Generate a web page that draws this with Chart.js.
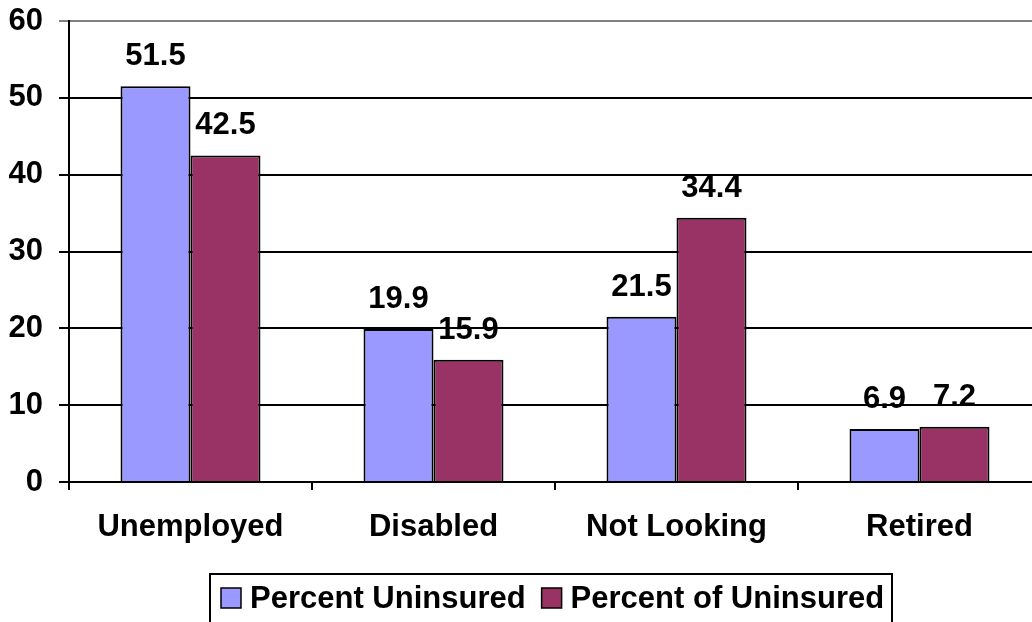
<!DOCTYPE html>
<html>
<head>
<meta charset="utf-8">
<script src="https://cdn.jsdelivr.net/npm/chart.js@4/dist/chart.umd.min.js"></script>
<style>
  html, body { margin: 0; padding: 0; background: #fff; overflow: hidden; width: 1032px; height: 622px; }
  #wrap { position: absolute; left: 0; top: 0; width: 1102px; height: 650px; }
</style>
</head>
<body>
<div id="wrap"><canvas id="c" width="1102" height="650"></canvas></div>
<script>
const categories = ["Unemployed", "Disabled", "Not Looking", "Retired"];
const percentUninsured = [51.5, 19.9, 21.5, 6.9];
const percentOfUninsured = [42.5, 15.9, 34.4, 7.2];
const seriesNames = ["Percent Uninsured", "Percent of Uninsured"];
const yTicks = [0, 10, 20, 30, 40, 50, 60];

const FONT = "'Liberation Sans', Arial, sans-serif";

const valueLabels = {
  id: 'valueLabels',
  afterDatasetsDraw(chart) {
    const ctx = chart.ctx;
    ctx.save();
    ctx.font = "bold 31px " + FONT;
    ctx.fillStyle = '#000';
    ctx.textAlign = 'center';
    ctx.textBaseline = 'alphabetic';
    chart.data.datasets.forEach((ds, i) => {
      chart.getDatasetMeta(i).data.forEach((el, j) => {
        ctx.fillText(String(ds.data[j]), el.x, el.y - 21);
      });
    });
    ctx.restore();
  }
};

const boxLegend = {
  id: 'boxLegend',
  afterDraw(chart) {
    const ctx = chart.ctx;
    ctx.save();
    ctx.lineWidth = 2;
    ctx.strokeStyle = '#000';
    ctx.strokeRect(210, 574, 682, 120);
    ctx.font = "bold 31px " + FONT;
    ctx.textBaseline = 'middle';
    ctx.textAlign = 'left';
    let x = 221;
    const y = 598;
    chart.data.datasets.forEach((ds, i) => {
      ctx.fillStyle = ds.backgroundColor;
      ctx.fillRect(x, y - 10, 20, 20);
      ctx.lineWidth = 1.5;
      ctx.strokeRect(x, y - 10, 20, 20);
      ctx.fillStyle = '#000';
      ctx.fillText(ds.label, x + 29, y + 1);
      x += 29 + ctx.measureText(ds.label).width + 16;
    });
    ctx.restore();
  }
};

new Chart(document.getElementById('c'), {
  type: 'bar',
  data: {
    labels: categories,
    datasets: [
      { label: seriesNames[0], data: percentUninsured, backgroundColor: '#9999FF', borderColor: '#000', borderWidth: 2 },
      { label: seriesNames[1], data: percentOfUninsured, backgroundColor: '#993366', borderColor: '#000', borderWidth: 2 }
    ]
  },
  options: {
    responsive: false,
    animation: false,
    devicePixelRatio: 1,
    layout: { padding: { top: 21, right: 61, bottom: 0, left: 0 } },
    datasets: { bar: { categoryPercentage: 0.576, barPercentage: 1.0 } },
    plugins: { legend: { display: false }, tooltip: { enabled: false } },
    scales: {
      x: {
        offset: true,
        grid: { drawOnChartArea: false, drawTicks: true, tickLength: 8, color: '#000', lineWidth: 2 },
        border: { display: true, color: '#000', width: 2 },
        ticks: { color: '#000', font: { family: FONT, size: 31, weight: 'bold' }, padding: 19, maxRotation: 0 },
        afterFit(s) { s.height = 168; s.paddingLeft = 0; s.paddingRight = 0; }
      },
      y: {
        min: 0, max: 60,
        afterBuildTicks(s) { s.ticks = yTicks.map(v => ({ value: v })); },
        grid: {
          color: c => (c.tick && c.tick.value === 60) ? '#808080' : '#000',
          lineWidth: 2, tickLength: 10, drawTicks: true
        },
        border: { display: true, color: '#000', width: 2 },
        ticks: { color: '#000', font: { family: FONT, size: 31, weight: 'bold' }, padding: 16 },
        afterFit(s) { s.width = 69; s.paddingTop = 0; s.paddingBottom = 0; }
      }
    }
  },
  plugins: [valueLabels, boxLegend]
});
</script>
</body>
</html>
